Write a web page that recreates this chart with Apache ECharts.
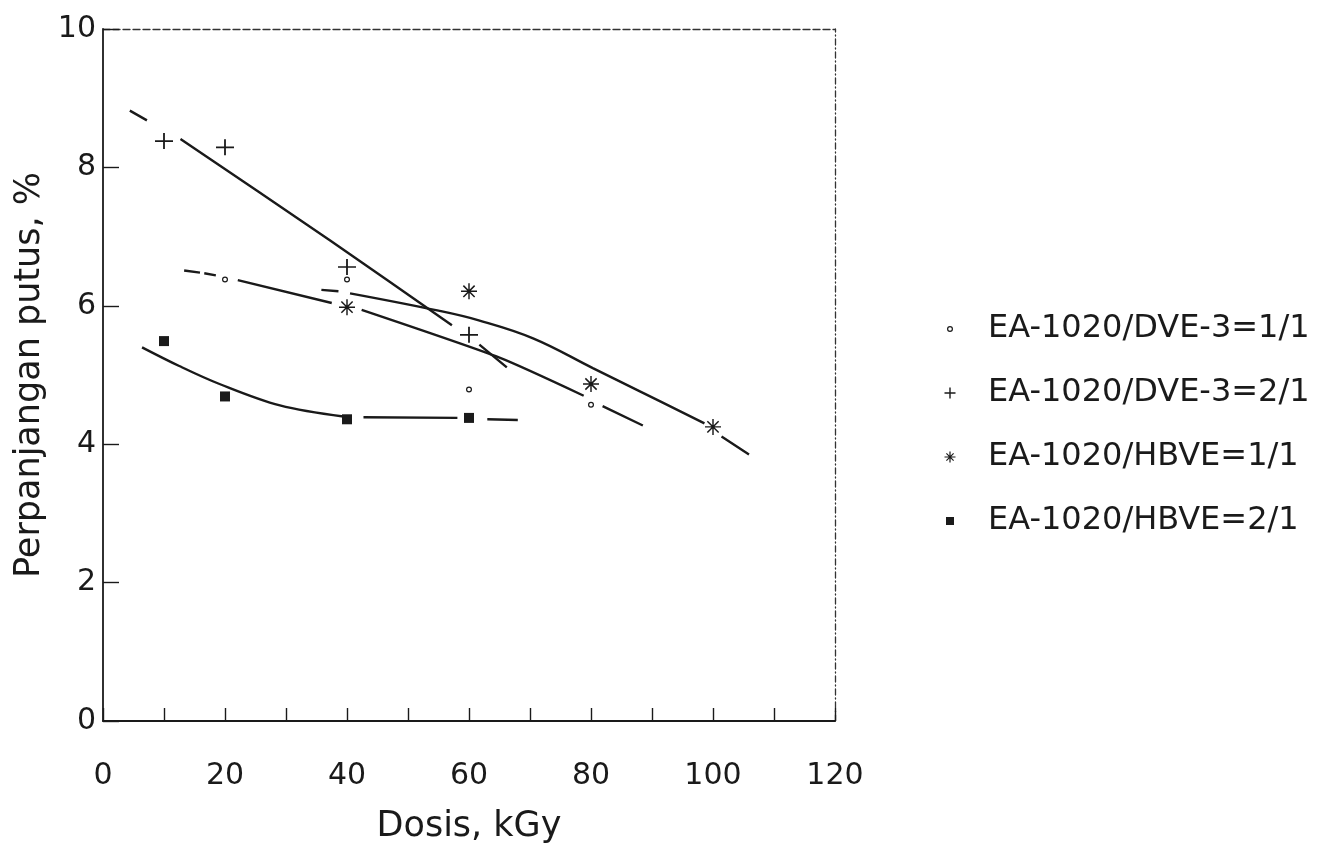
<!DOCTYPE html>
<html>
<head>
<meta charset="utf-8">
<script src="https://cdn.jsdelivr.net/npm/echarts@6/dist/echarts.min.js"></script>
<style>
  html, body { margin: 0; padding: 0; background: #ffffff; }
  #chart { width: 1325px; height: 849px; }
</style>
</head>
<body>
<div id="chart"></div>
<script>
// ---------------- data ----------------
const xTicks = [0, 20, 40, 60, 80, 100, 120];
const yTicks = [0, 2, 4, 6, 8, 10];
const seriesNames = ['EA-1020/DVE-3=1/1', 'EA-1020/DVE-3=2/1', 'EA-1020/HBVE=1/1', 'EA-1020/HBVE=2/1'];

// measured points
const dve11_x = [20, 40, 60, 80];
const dve11_y = [6.38, 6.38, 4.79, 4.57];
const dve21_x = [10, 20, 40, 60];
const dve21_y = [8.38, 8.29, 6.56, 5.58];
const hb11_x = [40, 60, 80, 100];
const hb11_y = [5.98, 6.21, 4.87, 4.25];
const hb21_x = [10, 20, 40, 60];
const hb21_y = [5.49, 4.69, 4.36, 4.38];

// hand-drawn fit curves (null = gap in the drawn line)
const fitDve21_x = [4.4, 7.2, null, 12.7, 37.3, 57.2, null, 61.7, 66.2];
const fitDve21_y = [8.82, 8.68, null, 8.41, 6.94, 5.72, null, 5.44, 5.11];
const fitDve11_x = [13.3, 15.9, null, 16.6, 18.5, null, 22.1, 37.5, null, 42.4, 65.0, 78.8, null, 81.9, 88.5];
const fitDve11_y = [6.51, 6.48, null, 6.47, 6.44, null, 6.37, 6.04, null, 5.94, 5.25, 4.70, null, 4.55, 4.27];
const fitHb11_x = [35.8, 38.6, null, 40.5, 55.0, 61.6, 70.5, 80.3, 88.1, 98.6, null, 101.4, 105.9];
const fitHb11_y = [6.23, 6.21, null, 6.18, 5.93, 5.79, 5.53, 5.10, 4.76, 4.30, null, 4.11, 3.85];
const fitHb21_x = [6.4, 12.5, 19.1, 29.0, 39.4, null, 42.7, 58.1, null, 63.0, 68.0];
const fitHb21_y = [5.40, 5.13, 4.87, 4.56, 4.40, null, 4.39, 4.38, null, 4.36, 4.35];

// ---------------- helpers ----------------
function pts(xs, ys) { return xs.map((x, i) => [x, ys[i]]); }
function gapPts(xs, ys) {
  return xs.map((x, i) => (x === null ? ['-', '-'] : [x, ys[i]]));
}
const INK = '#1a1a1a';
const FONT = 'DejaVu Sans';

const PAD = 'M0,0L0.01,0L0,0.01Z M20,20L19.99,20L20,19.99Z ';
const symRing = 'path://M10,0A10,10 0 1,1 10,20A10,10 0 1,1 10,0Z M10,4A6,6 0 1,0 10,16A6,6 0 1,0 10,4Z';
const symPlus = 'path://M0,9H20V11H0Z M9,0H11V20H9Z';
const symStar = 'path://M0,9.1H20V10.9H0Z M9.1,0H10.9V20H9.1Z M2.3,3.6L3.6,2.3L17.7,16.4L16.4,17.7Z M16.4,2.3L17.7,3.6L3.6,17.7L2.3,16.4Z';
const legRing = 'path://' + PAD + 'M10,7A3,3 0 1,1 10,13A3,3 0 1,1 10,7Z M10,8.2A1.8,1.8 0 1,0 10,11.8A1.8,1.8 0 1,0 10,8.2Z';
const legPlus = 'path://' + PAD + 'M4.5,9.3H15.5V10.7H4.5Z M9.3,4.5H10.7V15.5H9.3Z';
const legStar = 'path://' + PAD + 'M4.5,9.4H15.5V10.6H4.5Z M9.4,4.5H10.6V15.5H9.4Z M6,6.8L6.8,6L14,13.2L13.2,14Z M13.2,6L14,6.8L6.8,14L6,13.2Z';
const legSquare = 'path://' + PAD + 'M6,6H14V14H6Z';

function fitSeries(name, xs, ys, smooth) {
  return {
    name: name, type: 'line', data: gapPts(xs, ys), xAxisIndex: 0, yAxisIndex: 0,
    showSymbol: false, symbol: 'none', smooth: smooth, connectNulls: false,
    lineStyle: { color: INK, width: 2.4 }, silent: true, z: 2
  };
}
function markSeries(name, xs, ys, symbol, size) {
  return {
    name: name, type: 'scatter', data: pts(xs, ys), xAxisIndex: 0, yAxisIndex: 0,
    symbol: symbol, symbolSize: size,
    itemStyle: { color: INK, opacity: 1 }, z: 3
  };
}

const chart = echarts.init(document.getElementById('chart'), null, { renderer: 'canvas' });
const gridBox = { left: 103, top: 29, width: 732, height: 695 };

const option = {
  backgroundColor: '#ffffff',
  animation: false,
  textStyle: { fontFamily: FONT, color: INK },
  grid: gridBox,
  legend: {
    orient: 'vertical', left: 935, top: 304,
    itemWidth: 20, itemHeight: 20, itemGap: 24,
    textStyle: { fontFamily: FONT, fontSize: 32, color: INK, lineHeight: 40, padding: [0, 0, 0, 23] },
    data: [
      { name: seriesNames[0], icon: legRing },
      { name: seriesNames[1], icon: legPlus },
      { name: seriesNames[2], icon: legStar },
      { name: seriesNames[3], icon: legSquare }
    ],
    selectedMode: false
  },
  xAxis: [
    {
      type: 'value', min: xTicks[0], max: xTicks[xTicks.length - 1], interval: 10,
      name: 'Dosis, kGy', nameLocation: 'middle', nameGap: 88,
      nameTextStyle: { fontFamily: FONT, fontSize: 35, color: INK },
      axisLine: { show: true, onZero: false, lineStyle: { color: INK, width: 1.8 } },
      axisTick: { show: true, inside: true, length: 13, lineStyle: { color: INK, width: 1.4 } },
      axisLabel: {
        margin: 40, fontFamily: FONT, fontSize: 30, color: INK,
        formatter: v => (xTicks.indexOf(v) >= 0 ? String(v) : '')
      },
      splitLine: { show: false }
    },
    {
      type: 'value', position: 'top', min: xTicks[0], max: xTicks[xTicks.length - 1],
      axisLine: { show: true, onZero: false, lineStyle: { color: '#333', width: 1.3, type: [7, 3] } },
      axisTick: { show: false }, axisLabel: { show: false }, splitLine: { show: false }
    }
  ],
  yAxis: [
    {
      type: 'value', min: yTicks[0], max: yTicks[yTicks.length - 1], interval: 2,
      name: 'Perpanjangan putus, %', nameLocation: 'middle', nameGap: 52,
      nameTextStyle: { fontFamily: FONT, fontSize: 35, color: INK },
      axisLine: { show: true, onZero: false, lineStyle: { color: INK, width: 1.8 } },
      axisTick: { show: true, inside: true, length: 16, lineStyle: { color: INK, width: 1.4 } },
      axisLabel: { margin: 7, fontFamily: FONT, fontSize: 30, color: INK },
      splitLine: { show: false }
    },
    {
      type: 'value', position: 'right', min: yTicks[0], max: yTicks[yTicks.length - 1],
      axisLine: { show: true, onZero: false, lineStyle: { color: '#333', width: 1.3, type: [6, 3, 1, 3] } },
      axisTick: { show: false }, axisLabel: { show: false }, splitLine: { show: false }
    }
  ],
  series: [
    fitSeries('fit-dve21', fitDve21_x, fitDve21_y, 0.2),
    fitSeries('fit-dve11', fitDve11_x, fitDve11_y, 0.2),
    fitSeries('fit-hb11', fitHb11_x, fitHb11_y, 0.4),
    fitSeries('fit-hb21', fitHb21_x, fitHb21_y, 0.35),
    markSeries(seriesNames[0], dve11_x, dve11_y, symRing, 6),
    markSeries(seriesNames[1], dve21_x, dve21_y, symPlus, [18, 16]),
    markSeries(seriesNames[2], hb11_x, hb11_y, symStar, 16),
    markSeries(seriesNames[3], hb21_x, hb21_y, 'rect', 10)
  ]
};
chart.setOption(option);
</script>
</body>
</html>
